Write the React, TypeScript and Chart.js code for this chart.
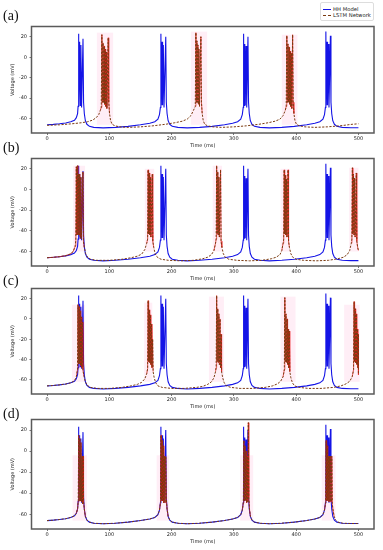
import React, { useEffect, useRef } from "react";
import { Chart, registerables } from "chart.js";
Chart.register(...registerables);

const xTicks = [0, 100, 200, 300, 400, 500];
const yTicks = [-60, -40, -20, 0, 20];
const panelLabels = ["(a)", "(b)", "(c)", "(d)"];
const seriesNames = ["HH Model", "LSTM Network"];
const xLabel = "Time (ms)";
const yLabel = "Voltage (mV)";

// HH model trace (time ms, voltage mV) — identical in all panels
const hhTrace: number[][] = [
  [0, -66], [10, -65.6], [20, -65], [30, -64.2], [38, -63], [44, -61.5], [47, -59], [49, -55], [49.8, -48],
  [50.4, 23], [51.1, -47], [52.3, 15], [53.1, -47], [54.3, 12], [55.4, -49], [57.7, 18], [58.6, -44], [59.8, -55],
  [61.5, -62], [64, -65.5], [68, -67.5], [75, -68.5], [90, -69], [110, -68.5], [130, -67.5], [150, -66], [165, -64.5],
  [173, -63], [178, -60.5], [180.5, -56], [182, -49], [182.8, 23], [183.5, -47], [184.7, 15], [185.5, -47], [186.7, 12],
  [187.8, -49], [190.6, 20], [191.5, -44], [192.7, -55], [194.4, -62], [197, -65.5], [201, -67.5], [210, -68.5],
  [225, -69], [245, -68.5], [265, -67.5], [285, -66], [298, -64.5], [306, -63], [311, -60.5], [313.5, -56], [315, -49],
  [315.6, 23], [316.3, -47], [317.5, 13], [318.3, -47], [319.5, 11], [320.6, -49], [322.6, 20], [323.5, -44],
  [324.7, -55], [326.4, -62], [329, -65.5], [333, -67.5], [342, -68.5], [357, -69], [377, -68.5], [397, -67.5],
  [417, -66], [430, -64.5], [438, -63], [443, -60.5], [445.5, -56], [447, -49], [447.7, 25], [448.4, -47], [449.6, 15],
  [450.4, -47], [451.6, 13], [452.7, -49], [455, 21], [455.9, -44], [457.1, -55], [458.8, -62], [461.4, -65.5],
  [465.4, -67.5], [474, -68.5], [488, -68.8], [500, -68.8],
];

// LSTM network traces per panel
const lstmA: number[][] = [
  [0, -66.5], [20, -66], [40, -65], [55, -64], [65, -63], [73, -61.5], [79, -59], [83, -56], [85.5, -52], [87, -49],
  [88, 22], [88.8, -44], [89.8, 14], [90.6, -44], [91.6, 11], [92.4, -46], [93.4, 8], [94.2, -48], [95.2, 5], [96, -50],
  [98.2, 19], [99.1, -44], [100.3, -55], [102, -62], [104.5, -65.5], [109, -67], [117, -68], [130, -68.5], [150, -68],
  [170, -67], [190, -65.5], [205, -64], [217, -62.5], [225, -60.5], [231, -57], [235, -52], [238, -48], [239, 24],
  [239.8, -44], [240.6, 16], [241.4, -44], [242.2, 12], [243, -46], [243.8, 8], [244.8, -48], [247, 20], [247.9, -44],
  [249.1, -55], [250.8, -62], [253.2, -65.5], [257.7, -67], [266, -68], [280, -68.5], [300, -68], [320, -67],
  [340, -65.5], [355, -64], [366, -62.5], [374, -60.5], [379, -57], [382.5, -52], [384, -48], [385, 21], [385.8, -44],
  [386.8, 13], [387.6, -44], [388.6, 10], [389.4, -46], [390.4, 6], [391.2, -48], [392.2, 4], [393, -50], [394.3, 22],
  [395.2, -44], [396.4, -55], [398.1, -62], [400.5, -65.5], [405, -67], [414, -68], [430, -68.5], [450, -68],
  [470, -67], [490, -65.5], [500, -65],
];
const lstmB: number[][] = [
  [0, -66], [10, -65.6], [20, -65], [30, -64], [37, -62.5], [42, -60], [45, -55], [46.2, -49], [47, 22], [47.8, -44],
  [48.8, 23], [49.6, -44], [50.6, 15], [51.4, -44], [52.4, 15], [53.2, -46], [54.2, 12], [55, -48], [57.6, 17],
  [58.4, -50], [59.8, -56], [62, -62], [65, -65.5], [70, -67.5], [80, -68.5], [100, -68.5], [120, -67.5], [135, -66],
  [145, -64.5], [152, -62.5], [157, -58], [160, -52], [161.5, -48], [162.3, 19], [163.1, -43], [164.1, 16],
  [164.9, -44], [165.9, 12], [166.7, -46], [169, 15], [169.8, -50], [171.3, -56], [173.5, -62], [177, -65.5],
  [183, -67.5], [195, -68.5], [215, -69], [235, -68.5], [250, -67], [258, -65.5], [264, -63], [268, -59], [270.5, -52],
  [271.5, -48], [272.3, 23], [273.1, -43], [274.1, 17], [274.9, -44], [275.9, 12], [276.7, -46], [278.6, 19],
  [279.4, -50], [280.8, -56], [283, -62], [286, -65.5], [292, -67.5], [305, -68.5], [325, -69], [345, -68.5],
  [360, -67], [368, -65.5], [374, -63], [377, -59], [379, -52], [380, -48], [380.8, 19], [381.6, -43], [382.6, 14],
  [383.4, -44], [384.4, 10], [385.2, -46], [387, 19], [387.8, -50], [389.2, -56], [391.4, -62], [394.5, -65.5],
  [400, -67.5], [412, -68.5], [432, -69], [452, -68.5], [467, -67], [476, -65.5], [482, -63], [486, -59],
  [488.5, -52], [489.5, -48], [490.3, 21], [491.1, -43], [492.1, 15], [492.9, -44], [493.9, 11], [494.7, -46],
  [496.6, 16], [497.4, -50], [498.8, -56], [500, -59],
];
const lstmC: number[][] = [
  [0, -66], [10, -65.6], [20, -65], [30, -64.2], [38, -63], [44, -61], [47, -57], [48.8, -50], [49.6, 14],
  [50.4, -44], [51.4, 12], [52.2, -44], [53.2, 8], [54, -46], [55, 2], [55.8, -48], [56.8, -3], [57.6, -50], [59, -56],
  [61.5, -62], [64.5, -65.5], [70, -67.5], [80, -68.5], [100, -68.5], [120, -67.5], [135, -66], [145, -64.5],
  [152, -62.5], [157, -59], [160, -54], [161.5, -49], [162.3, 18], [163.1, -42], [164.1, 9], [164.9, -43],
  [165.9, 4], [166.7, -45], [167.7, -5], [168.5, -48], [169.5, -20], [170.3, -52], [172, -58], [174.5, -63],
  [178, -66], [185, -67.5], [200, -68.5], [220, -68.5], [240, -67.5], [250, -66.5], [258, -64.5], [264, -62],
  [268, -58], [270.5, -52], [271.5, -48], [272.3, 23], [273.1, -42], [274.1, 10], [274.9, -43], [275.9, 5],
  [276.7, -45], [277.7, 0], [278.5, -48], [279.5, -15], [280.3, -52], [282, -58], [284.5, -63], [288, -66],
  [295, -67.5], [310, -68.5], [330, -68.5], [350, -67.5], [362, -66], [370, -64], [375, -61.5], [379, -57],
  [381, -50], [381.8, 21], [382.6, -42], [383.6, 5], [384.4, -43], [385.4, 0], [386.2, -45], [387.2, -10], [388, -48],
  [389, -12], [389.8, -52], [391.5, -58], [394, -63], [397.5, -66], [405, -67.5], [420, -68.5], [440, -68.5],
  [460, -67.5], [472, -66], [480, -64], [486, -61.5], [490, -57], [492.2, -50], [493, 17], [493.8, -42], [494.8, 10],
  [495.6, -43], [496.6, 5], [497.4, -45], [498.4, -10], [499.2, -48], [499.8, -15], [500, -55],
];
const lstmD: number[][] = [
  [0, -66], [10, -65.6], [20, -65], [30, -64.2], [38, -63], [44, -61.5], [47, -59], [49, -55], [50, -48], [50.8, 15],
  [51.6, -47], [52.6, 12], [53.4, -47], [54.4, 8], [55.2, -48], [56.2, -5], [57, -50], [57.8, -5], [58.6, -48],
  [59.8, -55], [61.5, -62], [64, -65.5], [68, -67.5], [75, -68.5], [90, -69], [110, -68.5], [130, -67.5], [150, -66],
  [165, -64.5], [173, -63], [178, -60.5], [180.5, -56], [182.2, -49], [183, 15], [183.8, -47], [184.8, 10],
  [185.6, -47], [186.6, 5], [187.5, -49], [188.5, -5], [189.5, -49], [190.5, -5], [191.5, -46], [192.7, -55],
  [194.4, -62], [197, -65.5], [201, -67.5], [210, -68.5], [225, -69], [245, -68.5], [265, -67.5], [285, -66],
  [298, -64.5], [306, -63], [311, -60.5], [313.5, -56], [315.2, -49], [316, 10], [316.8, -47], [317.8, 5],
  [318.6, -47], [319.6, 0], [320.5, -49], [321.5, -5], [322.3, -48], [323.2, 27], [324, -44], [325, -55],
  [326.6, -62], [329, -65.5], [333, -67.5], [342, -68.5], [357, -69], [377, -68.5], [397, -67.5], [417, -66],
  [430, -64.5], [438, -63], [443, -60.5], [445.5, -56], [447.4, -49], [448.2, 10], [449, -47], [450, 5], [450.8, -47],
  [451.8, -5], [452.6, -48], [453.6, -5], [454.4, -48], [455.4, -5], [456.2, -48], [457.2, -5], [458, -50],
  [459.2, -56], [461, -62], [463.5, -65.5], [467, -67.5], [475, -68.5], [488, -68.8], [500, -68.8],
];

// Uncertainty bands (start ms, end ms, low mV, high mV)
const bandsA = [[80, 106, -66, 24], [231, 257, -66, 25], [377, 402, -66, 22]];
const bandsB = [[42, 61, -60, 23], [157, 172, -60, 20], [266, 281, -60, 23], [375, 390, -60, 20], [485, 500, -60, 21]];
const bandsC = [[40, 61, -62, 14], [156, 169, -62, 16], [260, 284, -62, 22], [375, 399, -62, 22], [477, 502, -62, 14]];
const bandsD = [[41, 64, -66, -4], [176, 196, -66, -4], [310, 331, -66, -4], [441, 463, -66, -4]];

// Ranges where the red LSTM sample trace shows
const redA = [[84, 101], [236, 250], [382, 397]];
const redB = [[0, 60], [158, 172], [268, 282], [377, 390], [487, 500]];
const redC = [[47, 59], [160, 171], [270, 281], [379, 391], [490, 500]];
const redD = [[46, 62], [179, 195], [312, 327], [444, 461]];

const lstmTraces = [lstmA, lstmB, lstmC, lstmD];
const bandSets = [bandsA, bandsB, bandsC, bandsD];
const redSets = [redA, redB, redC, redD];

// layout (chart area top/bottom in page px)
const areaTops = [25, 157, 287, 418];
const areaBottoms = [133, 266, 394, 529];
const PAD_TOP = 4;
const X_AXIS_H = 16;

const BLUE = "#1414e6";
const BROWN = "#7a3a10";
const RED = "rgba(230,20,20,0.65)";
const PINK = "rgba(255,170,210,0.2)";
const TICK_FONT = { family: "DejaVu Sans", size: 5 };

const bandPlugin = (bands: number[][]) => ({
  id: "bands",
  beforeDatasetsDraw(chart: any) {
    const { ctx, chartArea, scales } = chart;
    ctx.save();
    ctx.beginPath();
    ctx.rect(chartArea.left, chartArea.top, chartArea.width, chartArea.height);
    ctx.clip();
    ctx.fillStyle = PINK;
    bands.forEach(([s, e, lo, hi]) => {
      const x1 = scales.x.getPixelForValue(s);
      const x2 = scales.x.getPixelForValue(e);
      const y1 = scales.y.getPixelForValue(hi);
      const y2 = scales.y.getPixelForValue(lo);
      ctx.fillRect(x1, y1, x2 - x1, y2 - y1);
    });
    ctx.restore();
  },
});

const framePlugin = {
  id: "frame",
  afterDraw(chart: any) {
    const { ctx, chartArea } = chart;
    ctx.save();
    ctx.strokeStyle = "#5a5a5a";
    ctx.lineWidth = 1.5;
    ctx.strokeRect(chartArea.left, chartArea.top, chartArea.width, chartArea.height);
    ctx.restore();
  },
};

function makeConfig(i: number): any {
  const lstm = lstmTraces[i];
  const red = lstm.map(([x, y]) => ({
    x,
    y: redSets[i].some(([a, b]) => x >= a && x <= b) ? y : null,
  }));
  return {
    type: "line",
    data: {
      datasets: [
        {
          label: seriesNames[1],
          data: lstm.map(([x, y]) => ({ x, y })),
          borderColor: BROWN,
          borderWidth: 1,
          borderDash: [2.2, 1.4],
          pointRadius: 0,
          fill: false,
          tension: 0,
          order: 0,
        },
        {
          label: "LSTM sample",
          data: red,
          borderColor: RED,
          borderWidth: 1,
          pointRadius: 0,
          fill: false,
          tension: 0,
          spanGaps: false,
          order: 1,
        },
        {
          label: seriesNames[0],
          data: hhTrace.map(([x, y]) => ({ x, y })),
          borderColor: BLUE,
          borderWidth: 1.1,
          pointRadius: 0,
          fill: false,
          tension: 0,
          order: 2,
        },
      ],
    },
    options: {
      responsive: false,
      animation: false,
      events: [],
      layout: { padding: { top: PAD_TOP, right: 9, left: 0, bottom: 0 } },
      plugins: { legend: { display: false }, tooltip: { enabled: false } },
      scales: {
        x: {
          type: "linear",
          min: -25,
          max: 525,
          afterBuildTicks: (s: any) => {
            s.ticks = xTicks.map((v) => ({ value: v }));
          },
          afterFit: (s: any) => {
            s.height = X_AXIS_H;
          },
          grid: { drawOnChartArea: false, drawTicks: true, tickLength: 2, color: "#555", lineWidth: 0.8 },
          border: { display: false },
          ticks: { font: TICK_FONT, color: "#222", padding: 1, maxRotation: 0, autoSkip: false },
          title: {
            display: true,
            text: xLabel,
            font: TICK_FONT,
            color: "#222",
            padding: { top: 0, bottom: 0.5 },
          },
        },
        y: {
          type: "linear",
          min: -74,
          max: 30,
          afterBuildTicks: (s: any) => {
            s.ticks = yTicks.map((v) => ({ value: v }));
          },
          afterFit: (s: any) => {
            s.width = 31.5;
          },
          grid: { drawOnChartArea: false, drawTicks: true, tickLength: 2, color: "#555", lineWidth: 0.8 },
          border: { display: false },
          ticks: { font: TICK_FONT, color: "#222", padding: 2.5, autoSkip: false },
          title: {
            display: true,
            text: yLabel,
            font: TICK_FONT,
            color: "#222",
            padding: { top: 10, bottom: 0 },
          },
        },
      },
    },
    plugins: [bandPlugin(bandSets[i]), framePlugin],
  };
}

const labelTops = [8.5, 140.5, 273.5, 407];

export default function App() {
  const refs = [useRef<HTMLCanvasElement>(null), useRef<HTMLCanvasElement>(null), useRef<HTMLCanvasElement>(null), useRef<HTMLCanvasElement>(null)];
  useEffect(() => {
    const charts = refs.map((r, i) => new Chart(r.current as HTMLCanvasElement, makeConfig(i)));
    return () => charts.forEach((c) => c.destroy());
  }, []);

  return (
    <div style={{ position: "absolute", left: 0, top: 0, width: 383, height: 550, background: "#fff", overflow: "hidden" }}>
      {areaTops.map((t, i) => {
        const top = t - PAD_TOP;
        const h = areaBottoms[i] - t + PAD_TOP + X_AXIS_H;
        return (
          <canvas
            key={i}
            ref={refs[i]}
            width={383}
            height={h}
            style={{ position: "absolute", left: 0, top, width: 383, height: h }}
          />
        );
      })}
      {panelLabels.map((l, i) => (
        <div
          key={l}
          style={{
            position: "absolute",
            left: 3,
            top: labelTops[i],
            fontFamily: "'Liberation Serif', serif",
            fontSize: 14,
            lineHeight: "14px",
            color: "#111",
          }}
        >
          {l}
        </div>
      ))}
      <div
        style={{
          position: "absolute",
          left: 320,
          top: 2,
          width: 54,
          height: 19,
          border: "1px solid #ddd",
          borderRadius: 2,
          background: "#fff",
          boxSizing: "border-box",
          fontFamily: "'DejaVu Sans', sans-serif",
          fontSize: 5.3,
          color: "#222",
        }}
      >
        {seriesNames.map((n, i) => (
          <div key={n} style={{ position: "absolute", left: 1.5, top: 3 + i * 6, height: 6, display: "flex", alignItems: "center" }}>
            <div
              style={{
                width: 8,
                height: 0,
                borderTop: i === 0 ? `1.3px solid ${BLUE}` : `1.3px dashed ${BROWN}`,
                marginRight: 2.5,
              }}
            />
            <span style={{ lineHeight: "6px", whiteSpace: "nowrap" }}>{n}</span>
          </div>
        ))}
      </div>
    </div>
  );
}
